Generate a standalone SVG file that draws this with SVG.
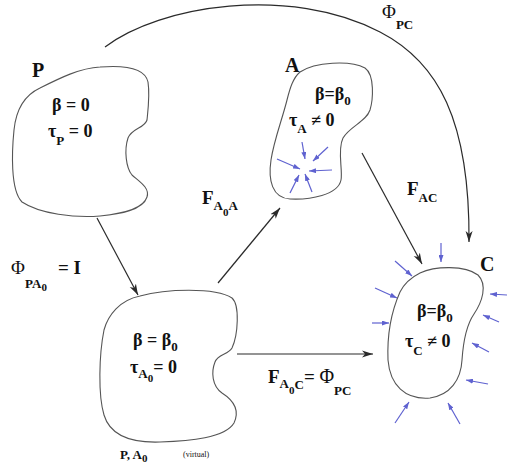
<svg xmlns="http://www.w3.org/2000/svg" width="507" height="466" viewBox="0 0 507 466">
<defs>
<style>
.blob{fill:none;stroke:#555;stroke-width:1.1}
.conn{fill:none;stroke:#2a2a2a;stroke-width:1.2}
.trac{fill:none;stroke:#5f62d0;stroke-width:1.2}
text{font-family:"Liberation Serif","Times New Roman",serif;font-weight:bold;fill:#111}
.lbl{font-size:20px}
.in{font-size:18px}
.sub{font-size:13px}
.reg{font-weight:normal}
</style>
<marker id="ah" viewBox="0 0 12 8" refX="11" refY="4" markerWidth="12" markerHeight="8" markerUnits="userSpaceOnUse" orient="auto">
<path d="M0,0.5 L11,4 L0,7.5 L3,4 Z" fill="#2a2a2a"/>
</marker>
<marker id="bh" viewBox="0 0 7 5" refX="7" refY="2.5" markerWidth="7" markerHeight="5" markerUnits="userSpaceOnUse" orient="auto">
<path d="M0,0 L7,2.5 L0,5 Z" fill="#5f62d0"/>
</marker>
</defs>
<rect width="507" height="466" fill="#fff"/>

<g id="connectors">
<path class="conn" d="M105,47 C160,5 290,-15 380,32 C438,62 470,120 469,242" marker-end="url(#ah)"/>
<line class="conn" x1="97" y1="218" x2="138" y2="295" marker-end="url(#ah)"/>
<line class="conn" x1="218" y1="283" x2="280" y2="208" marker-end="url(#ah)"/>
<line class="conn" x1="362" y1="153" x2="422" y2="264" marker-end="url(#ah)"/>
<line class="conn" x1="237" y1="354" x2="373" y2="354" marker-end="url(#ah)"/>
<text x="382" y="18" style="font-size:19px" class="reg">Φ<tspan class="sub" style="font-weight:bold" dy="11">PC</tspan></text>
<text x="11" y="274" style="font-size:19px" class="reg">Φ<tspan class="sub" style="font-weight:bold" x="25" dy="14">PA</tspan><tspan style="font-size:11px;font-weight:bold" dy="3">0</tspan><tspan style="font-size:19px;font-weight:bold" x="58" y="274">= I</tspan></text>
<text x="202" y="204" style="font-size:19px">F<tspan class="sub" dy="6">A</tspan><tspan style="font-size:11px" dy="6">0</tspan><tspan class="sub" dy="-6">A</tspan></text>
<text x="407" y="195" style="font-size:19px">F<tspan class="sub" dy="7">AC</tspan></text>
<text x="268" y="383" style="font-size:19px">F<tspan class="sub" dy="5">A</tspan><tspan style="font-size:11px" dy="6">0</tspan><tspan class="sub" dy="-5">C</tspan><tspan style="font-size:19px" dy="-6">= </tspan><tspan class="reg" style="font-size:20px">Φ</tspan><tspan class="sub" dy="12">PC</tspan></text>
</g>

<g id="node-P">
<path class="blob" d="M100,67 C125,65 145,68 148,82 C150,95 148,110 147,120 C145,128 132,128 128,138 C124,150 126,168 132,175 C140,182 150,188 147,197 C143,210 120,214 100,216 C75,218 40,214 22,202 C10,190 12,150 14,130 C16,110 25,95 40,88 C60,78 80,68 100,67 Z"/>
<text class="lbl" x="32" y="77">P</text>
<text class="in" x="52" y="111">β = 0</text>
<text class="in" x="48" y="137">τ<tspan class="sub" dy="8">P</tspan><tspan dy="-8"> = 0</tspan></text>
</g>

<g id="node-A">
<path class="blob" d="M300,72 C315,62 350,60 365,68 C375,75 373,100 370,110 C366,122 350,126 343,138 C337,150 343,170 341,180 C338,195 310,200 290,199 C272,198 268,180 271,160 C274,140 282,120 287,100 C290,88 293,78 300,72 Z"/>
<text class="lbl" x="285" y="72">A</text>
<text class="in" x="315" y="100">β=β<tspan class="sub" dy="5">0</tspan></text>
<text class="in" x="289" y="126">τ<tspan class="sub" dy="7">A</tspan><tspan dy="-7"> ≠ 0</tspan></text>
<g>
<line class="trac" x1="302" y1="142" x2="305" y2="159" marker-end="url(#bh)"/>
<line class="trac" x1="328" y1="147" x2="313" y2="161" marker-end="url(#bh)"/>
<line class="trac" x1="277" y1="159" x2="300" y2="169" marker-end="url(#bh)"/>
<line class="trac" x1="332" y1="170" x2="309" y2="171" marker-end="url(#bh)"/>
<line class="trac" x1="290" y1="193" x2="299" y2="175" marker-end="url(#bh)"/>
<line class="trac" x1="312" y1="192" x2="305" y2="174" marker-end="url(#bh)"/>
</g>
</g>

<g id="node-A0">
<path class="blob" d="M140,296 C165,289 215,287 232,298 C240,305 238,335 232,348 C228,355 218,354 215,362 C211,372 212,386 222,393 C233,400 240,410 234,423 C225,438 190,441 160,442 C130,443 110,435 104,415 C98,395 99,355 104,330 C108,315 120,300 140,296 Z"/>
<text class="in" x="133" y="346">β = β<tspan class="sub" dy="5">0</tspan></text>
<text class="in" x="130" y="373">τ<tspan class="sub" dy="5">A</tspan><tspan style="font-size:11px" dy="4">0</tspan><tspan dy="-9">= 0</tspan></text>
<text style="font-size:13px" x="120" y="459">P, A<tspan style="font-size:11px" dy="3">0</tspan><tspan class="reg" style="font-size:8px" x="183" y="457">(virtual)</tspan></text>
</g>

<g id="node-C">
<path class="blob" d="M420,273 C435,266 465,265 478,275 C488,285 482,302 474,314 C465,327 463,345 462,360 C461,380 450,395 430,398 C405,400 390,385 388,360 C387,335 392,310 400,292 C405,282 412,277 420,273 Z"/>
<text class="lbl" x="480" y="271">C</text>
<text class="in" x="417" y="317">β=β<tspan class="sub" dy="5">0</tspan></text>
<text class="in" x="405" y="347">τ<tspan class="sub" dy="8">C</tspan><tspan dy="-8"> ≠ 0</tspan></text>
<g>
<line class="trac" x1="441" y1="243" x2="441" y2="262" marker-end="url(#bh)"/>
<line class="trac" x1="395" y1="261" x2="412" y2="276" marker-end="url(#bh)"/>
<line class="trac" x1="375" y1="288" x2="397" y2="298" marker-end="url(#bh)"/>
<line class="trac" x1="372" y1="323" x2="389" y2="323" marker-end="url(#bh)"/>
<line class="trac" x1="395" y1="423" x2="409" y2="402" marker-end="url(#bh)"/>
<line class="trac" x1="460" y1="424" x2="448" y2="403" marker-end="url(#bh)"/>
<line class="trac" x1="488" y1="384" x2="466" y2="380" marker-end="url(#bh)"/>
<line class="trac" x1="489" y1="352" x2="472" y2="343" marker-end="url(#bh)"/>
<line class="trac" x1="499" y1="322" x2="483" y2="315" marker-end="url(#bh)"/>
<line class="trac" x1="507" y1="295" x2="490" y2="294" marker-end="url(#bh)"/>
</g>
</g>
</svg>
